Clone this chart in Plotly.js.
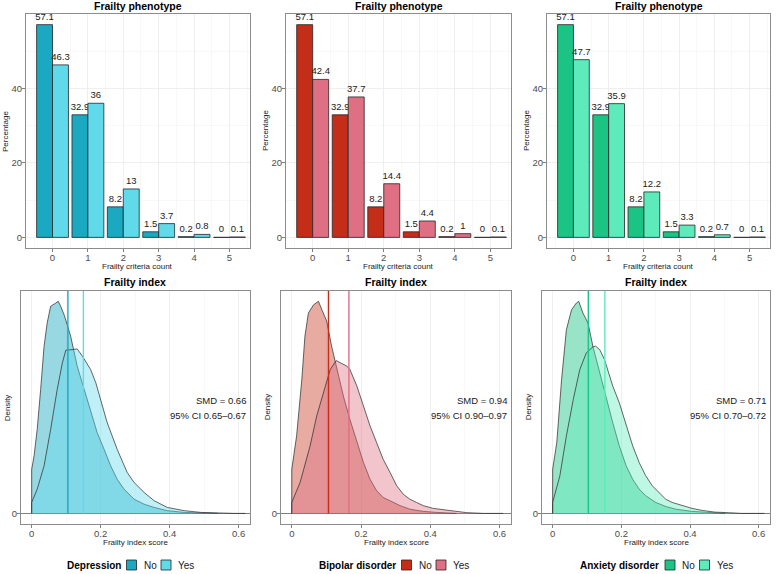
<!DOCTYPE html>
<html>
<head>
<meta charset="utf-8">
<script src="https://cdn.plot.ly/plotly-3.0.1.min.js"></script>
<style>html,body{margin:0;padding:0;background:#fff}#plot{width:780px;height:574px}</style>
</head>
<body>
<div id="plot"></div>
<script>
// frailty criteria count (0-5) and percentages per group
var criteria = [0, 1, 2, 3, 4, 5];
var depNoPct = [57.1, 32.9, 8.2, 1.5, 0.2, 0];
var depYesPct = [46.3, 36, 13, 3.7, 0.8, 0.1];
var bipNoPct = [57.1, 32.9, 8.2, 1.5, 0.2, 0];
var bipYesPct = [42.4, 37.7, 14.4, 4.4, 1, 0.1];
var anxNoPct = [57.1, 32.9, 8.2, 1.5, 0.2, 0];
var anxYesPct = [47.7, 35.9, 12.2, 3.3, 0.7, 0.1];

// frailty index density curves
var depNoX = [0, 0, 0.007, 0.016, 0.026, 0.036, 0.045, 0.055, 0.070, 0.077, 0.084, 0.094, 0.103, 0.113, 0.132, 0.152, 0.171, 0.190, 0.210, 0.229, 0.248, 0.268, 0.297, 0.326, 0.355, 0.393, 0.442, 0.490, 0.540];
var depNoY = [0, 1.77, 2.31, 3.37, 4.97, 6.71, 7.64, 8.31, 8.44, 8.51, 8.31, 7.97, 7.57, 7.11, 5.91, 4.97, 4.04, 3.24, 2.57, 1.91, 1.37, 0.97, 0.57, 0.37, 0.24, 0.11, 0.04, 0.01, 0];
var depYesX = [0, 0, 0.016, 0.036, 0.055, 0.074, 0.089, 0.099, 0.118, 0.132, 0.147, 0.171, 0.186, 0.200, 0.219, 0.248, 0.277, 0.297, 0.326, 0.355, 0.393, 0.442, 0.490, 0.586, 0.620];
var depYesY = [0, 0.44, 0.97, 1.91, 3.37, 4.97, 6.04, 6.55, 6.57, 6.60, 6.31, 5.77, 5.24, 4.57, 3.64, 2.57, 1.64, 1.24, 0.84, 0.51, 0.24, 0.11, 0.04, 0, 0];

var bipNoX = [0, 0, 0.014, 0.029, 0.038, 0.048, 0.063, 0.077, 0.087, 0.101, 0.115, 0.130, 0.149, 0.168, 0.188, 0.207, 0.226, 0.245, 0.264, 0.284, 0.313, 0.341, 0.380, 0.418, 0.476];
var bipNoY = [0, 1.77, 3.11, 5.37, 7.11, 8.04, 8.37, 8.51, 8.17, 7.71, 6.71, 5.77, 4.71, 3.77, 2.84, 2.04, 1.37, 0.91, 0.64, 0.51, 0.31, 0.17, 0.08, 0.04, 0];
var bipYesX = [0, 0, 0.024, 0.053, 0.072, 0.091, 0.111, 0.128, 0.139, 0.159, 0.168, 0.188, 0.207, 0.226, 0.245, 0.264, 0.284, 0.303, 0.322, 0.341, 0.360, 0.380, 0.409, 0.438, 0.457, 0.476, 0.505, 0.553, 0.610];
var bipYesY = [0, 0.44, 1.24, 2.71, 3.91, 4.84, 5.77, 6.13, 6.04, 5.91, 5.77, 5.11, 4.31, 3.51, 2.84, 2.17, 1.64, 1.11, 0.77, 0.57, 0.44, 0.31, 0.20, 0.15, 0.13, 0.07, 0.03, 0, 0];

var anxNoX = [0, 0, 0.012, 0.026, 0.040, 0.055, 0.069, 0.076, 0.088, 0.103, 0.117, 0.137, 0.156, 0.175, 0.194, 0.214, 0.233, 0.252, 0.271, 0.300, 0.329, 0.358, 0.406, 0.454, 0.502];
var anxNoY = [0, 1.77, 2.84, 5.37, 7.37, 8.17, 8.44, 8.51, 8.04, 7.64, 6.71, 5.64, 4.57, 3.64, 2.71, 1.91, 1.37, 0.97, 0.71, 0.44, 0.28, 0.17, 0.08, 0.03, 0];
var anxYesX = [0, 0, 0.021, 0.040, 0.060, 0.079, 0.098, 0.117, 0.125, 0.137, 0.151, 0.165, 0.175, 0.194, 0.214, 0.233, 0.252, 0.271, 0.290, 0.310, 0.329, 0.348, 0.377, 0.406, 0.435, 0.473, 0.512, 0.550, 0.617];
var anxYesY = [0, 0.44, 1.51, 3.11, 4.57, 5.77, 6.44, 6.68, 6.71, 6.57, 6.17, 5.51, 5.11, 4.44, 3.51, 2.71, 2.04, 1.51, 1.11, 0.84, 0.57, 0.44, 0.31, 0.20, 0.12, 0.05, 0.03, 0, 0];

// group means (No, Yes) and SMD text
var depMeans = [0.105, 0.150];
var bipMeans = [0.106, 0.165];
var anxMeans = [0.104, 0.152];
var smdLabels = ["SMD = 0.66", "SMD = 0.94", "SMD = 0.71"];
var ciLabels = ["95% CI 0.65\u20130.67", "95% CI 0.90\u20130.97", "95% CI 0.70\u20130.72"];
var groupNames = ["Depression", "Bipolar disorder", "Anxiety disorder"];
var levels = ["No", "Yes"];

var panels = [
  {noPct: depNoPct, yesPct: depYesPct, noX: depNoX, noY: depNoY, yesX: depYesX, yesY: depYesY, means: depMeans,
   col: ["#1AA9C1", "#60D9EA"], fill: ["rgba(26,169,193,0.45)", "rgba(96,217,234,0.4)"]},
  {noPct: bipNoPct, yesPct: bipYesPct, noX: bipNoX, noY: bipNoY, yesX: bipYesX, yesY: bipYesY, means: bipMeans,
   col: ["#C42D17", "#DF6F82"], fill: ["rgba(196,45,23,0.4)", "rgba(223,111,130,0.4)"]},
  {noPct: anxNoPct, yesPct: anxYesPct, noX: anxNoX, noY: anxNoY, yesX: anxYesX, yesY: anxYesY, means: anxMeans,
   col: ["#1BC385", "#5DEBBB"], fill: ["rgba(27,195,133,0.45)", "rgba(93,235,187,0.4)"]}
];

var topX = [[0.0333, 0.3205], [0.3667, 0.6551], [0.7013, 0.9872]];
var botX = [[0.0269, 0.3205], [0.3603, 0.6551], [0.6949, 0.9872]];
var topY = [0.5679, 0.9756];
var botY = [0.0871, 0.4936];
// right edge (px) of each legend title, legend row centre (px)
var legendRight = [122.5, 397.5, 661];
var legendMid = 565;

var W = 780, H = 574;
var font = "Liberation Sans, Arial, sans-serif";
var axisBase = {
  showline: true, mirror: true, linecolor: "#8c8c8c", linewidth: 1,
  ticks: "outside", ticklen: 3, tickcolor: "#7f7f7f", tickwidth: 1,
  tickfont: {size: 9.5, color: "#4d4d4d"}, ticklabelstandoff: -2,
  gridcolor: "#ebebeb", gridwidth: 0.8, zeroline: false, fixedrange: true
};
function ax(extra) { return Object.assign({}, axisBase, extra); }

var traces = [];
var annotations = [];
var shapes = [];
var layout = {
  width: W, height: H,
  margin: {l: 0, r: 0, t: 0, b: 0},
  paper_bgcolor: "#fff", plot_bgcolor: "#fff",
  font: {family: font, color: "#1a1a1a"},
  barmode: "group", bargap: 0.1, bargroupgap: 0,
  showlegend: false, hovermode: false
};

panels.forEach(function (p, i) {
  var tx = "x" + (i === 0 ? "" : i + 1), ty = "y" + (i === 0 ? "" : i + 1);
  var bx = "x" + (i + 4), by = "y" + (i + 4);
  var tkx = "xaxis" + (i === 0 ? "" : i + 1), tky = "yaxis" + (i === 0 ? "" : i + 1);

  // bars
  [p.noPct, p.yesPct].forEach(function (vals, k) {
    traces.push({
      type: "bar", x: criteria, y: vals, xaxis: tx, yaxis: ty,
      name: levels[k], offsetgroup: "g" + k,
      marker: {color: p.col[k], line: {color: "#262626", width: 0.8}},
      text: vals.map(String), textposition: "outside", constraintext: "none",
      textfont: {size: 9.5, color: "#1a1a1a"}, cliponaxis: false
    });
  });

  var maxPct = Math.max.apply(null, p.noPct.concat(p.yesPct));
  layout[tkx] = ax({domain: topX[i], anchor: ty, range: [-0.75, 5.58], tickvals: criteria,
    minor: {dtick: 0.5, tick0: 0, showgrid: true, gridcolor: "#f4f4f4", gridwidth: 0.6, ticks: ""}});
  layout[tky] = ax({domain: topY, anchor: tx, range: [-0.05 * maxPct, 1.05 * maxPct], tick0: 0, dtick: 20,
    minor: {dtick: 10, tick0: 0, showgrid: true, gridcolor: "#f4f4f4", gridwidth: 0.6, ticks: ""}});

  // densities
  [[p.noX, p.noY], [p.yesX, p.yesY]].forEach(function (d, k) {
    traces.push({
      type: "scatter", mode: "lines", x: d[0], y: d[1], xaxis: bx, yaxis: by,
      fill: "tozeroy", fillcolor: p.fill[k], line: {color: "#262626", width: 0.7}
    });
  });
  var maxD = Math.max.apply(null, p.noY.concat(p.yesY));
  var yTop = 1.05 * maxD;
  p.means.forEach(function (m, k) {
    traces.push({
      type: "scatter", mode: "lines", x: [m, m], y: [0, yTop], xaxis: bx, yaxis: by,
      line: {color: p.col[k], width: 1.4}
    });
  });
  layout["xaxis" + (i + 4)] = ax({domain: botX[i], anchor: by, range: [-0.031, 0.633], tick0: 0, dtick: 0.2,
    minor: {dtick: 0.1, tick0: 0, showgrid: true, gridcolor: "#f4f4f4", gridwidth: 0.6, ticks: ""}});
  layout["yaxis" + (i + 4)] = ax({domain: botY, anchor: bx, range: [-0.05 * maxD, yTop], tickvals: [0],
    showgrid: false, zeroline: true, zerolinecolor: "#808080", zerolinewidth: 1});

  // titles and labels
  annotations.push(
    {xref: tx + " domain", yref: ty + " domain", x: 0.5, y: 1.034, text: "<b>Frailty phenotype</b>",
     showarrow: false, font: {size: 10.5, color: "#000"}, yanchor: "middle"},
    {xref: tx + " domain", yref: ty + " domain", x: 0.5, y: -0.078, text: "Frailty criteria count",
     showarrow: false, font: {size: 8, color: "#1a1a1a"}, yanchor: "middle"},
    {xref: tx + " domain", yref: ty + " domain", x: 0, xshift: -21, y: 0.5, text: "Percentage", textangle: -90,
     showarrow: false, font: {size: 8, color: "#1a1a1a"}, xanchor: "center", yanchor: "middle"},
    {xref: bx + " domain", yref: by + " domain", x: 0.5, y: 1.037, text: "<b>Frailty index</b>",
     showarrow: false, font: {size: 10.5, color: "#000"}, yanchor: "middle"},
    {xref: bx + " domain", yref: by + " domain", x: 0.5, y: -0.08, text: "Frailty index score",
     showarrow: false, font: {size: 8, color: "#1a1a1a"}, yanchor: "middle"},
    {xref: bx + " domain", yref: by + " domain", x: 0, xshift: -14, y: 0.5, text: "Density", textangle: -90,
     showarrow: false, font: {size: 8, color: "#1a1a1a"}, xanchor: "center", yanchor: "middle"},
    {xref: bx + " domain", yref: by + " domain", x: 0.99, y: 0.53, text: smdLabels[i],
     showarrow: false, font: {size: 9.5, color: "#1a1a1a"}, xanchor: "right", yanchor: "middle"},
    {xref: bx + " domain", yref: by + " domain", x: 0.99, y: 0.465, text: ciLabels[i],
     showarrow: false, font: {size: 9.5, color: "#1a1a1a"}, xanchor: "right", yanchor: "middle"}
  );

  // legend row: title, two keys with labels
  var R = legendRight[i], ly = 1 - legendMid / H;
  annotations.push({xref: "paper", yref: "paper", x: R / W, y: ly, xanchor: "right", yanchor: "middle",
    text: "<b>" + groupNames[i] + "</b>", showarrow: false, font: {size: 10, color: "#000"}});
  [0, 1].forEach(function (k) {
    var bx0 = R + 4 + k * 34.5;
    shapes.push({type: "rect", xref: "paper", yref: "paper",
      x0: bx0 / W, x1: (bx0 + 10) / W, y0: 1 - (legendMid + 5) / H, y1: 1 - (legendMid - 5) / H,
      fillcolor: p.col[k], line: {color: "#262626", width: 0.8}});
    annotations.push({xref: "paper", yref: "paper", x: (bx0 + 15) / W, y: ly, xanchor: "left", yanchor: "middle",
      text: levels[k], showarrow: false, font: {size: 10, color: "#1a1a1a"}});
  });
});

layout.annotations = annotations;
layout.shapes = shapes;

Plotly.newPlot("plot", traces, layout, {staticPlot: true});
</script>
</body>
</html>
